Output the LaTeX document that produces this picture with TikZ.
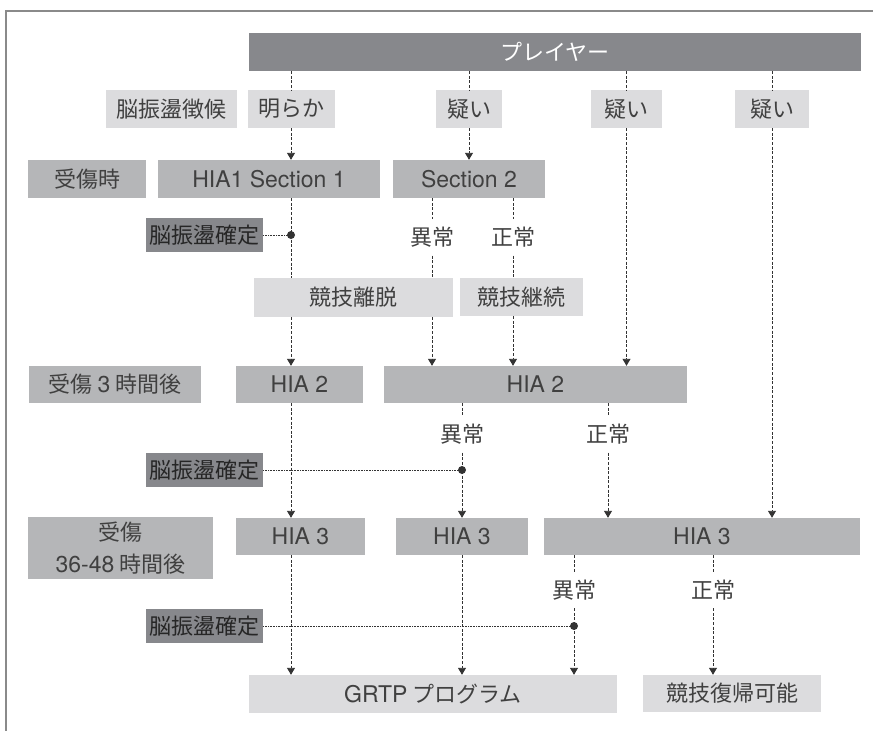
\documentclass[tikz,border=0pt]{standalone}
\usepackage{fontspec}
\setmainfont{Noto Sans CJK JP}
\newfontfamily\latf{TeX Gyre Heros}
\newcommand{\lt}[1]{{\latf\fontsize{23}{30}\selectfont #1}}
\usetikzlibrary{arrows.meta,calc}
\definecolor{cdark}{HTML}{87888C}
\definecolor{cmid}{HTML}{B5B6B8}
\definecolor{clight}{HTML}{DCDCDE}
\definecolor{ctext}{HTML}{404040}
\definecolor{cline}{HTML}{333333}
\definecolor{cframe}{HTML}{8A8A8A}
\tikzset{
  bx/.style={inner sep=0pt, minimum height=38pt, text=ctext, font=\fontsize{22}{30}\selectfont},
  darkbox/.style={bx, fill=cdark},
  midbox/.style={bx, fill=cmid},
  lightbox/.style={bx, fill=clight},
  lbl/.style={inner sep=0pt, minimum height=36pt, minimum width=50pt, text=ctext, font=\fontsize{22}{30}\selectfont},
  dl/.style={draw=cline, line width=0.9pt, dash pattern=on 3pt off 1.6pt},
  dla/.style={dl, -{Triangle[length=7pt,width=8pt]}},
  dotl/.style={draw=cline, line width=0.8pt, dash pattern=on 0.9pt off 0.7pt},
}
\begin{document}
\begin{tikzpicture}[x=1pt,y=-1pt]
\useasboundingbox (0,0) rectangle (873,731);
\draw[cframe, line width=2pt] (6,731) -- (6,11) -- (873,11);

% row 1
\node[darkbox, minimum width=612pt, text=white] (player) at (555,52) {プレイヤー};
% row 2
\node[lightbox, minimum width=131pt] (sign) at (171.5,109) {脳振盪徴候};
\node[lightbox, minimum width=87pt] (mk) at (291,109) {明らか};
\node[lightbox, minimum width=66pt] (q1) at (469,109) {疑い};
\node[lightbox, minimum width=71pt] (q2) at (626.5,109) {疑い};
\node[lightbox, minimum width=74pt] (q3) at (772,109) {疑い};
% row 3
\node[midbox, minimum width=118pt] (t0) at (87,179) {受傷時};
\node[midbox, minimum width=222pt] (s1) at (269,179) {\lt{HIA1 Section 1}};
\node[midbox, minimum width=152pt] (s2) at (469,179) {\lt{Section 2}};
\node[lbl] (ab1) at (432,237.5) {異常};
\node[lbl] (no1) at (513,237.5) {正常};
\node[darkbox, minimum width=117pt, minimum height=34pt, text=black!85] (conf1) at (204.5,235) {脳振盪確定};
% row 4
\node[lightbox, minimum width=199pt, minimum height=39pt] (leave) at (353.5,297.5) {競技離脱};
\node[lightbox, minimum width=123pt] (cont) at (521.5,297) {競技継続};
% row 5
\node[midbox, minimum width=172pt, minimum height=37pt] (t3) at (115,384.5) {受傷 \lt{3} 時間後};
\node[midbox, minimum width=127pt, minimum height=37pt] (h2a) at (299.5,384.5) {\lt{HIA 2}};
\node[midbox, minimum width=303pt, minimum height=37pt] (h2b) at (535.5,384.5) {\lt{HIA 2}};
\node[lbl] (ab2) at (462,434.5) {異常};
\node[lbl] (no2) at (608,434.5) {正常};
\node[darkbox, minimum width=117pt, minimum height=34pt, text=black!85] (conf2) at (204.5,470) {脳振盪確定};
% row 6
\node[midbox, minimum width=185pt, minimum height=62pt, align=center, font=\fontsize{22}{32}\selectfont] (t36) at (120.5,548) {受傷\\\lt{36-48} 時間後};
\node[midbox, minimum width=129pt, minimum height=37pt] (h3a) at (300.5,536.5) {\lt{HIA 3}};
\node[midbox, minimum width=132pt, minimum height=37pt] (h3b) at (462,536.5) {\lt{HIA 3}};
\node[midbox, minimum width=316pt, minimum height=37pt] (h3c) at (702,536.5) {\lt{HIA 3}};
\node[lbl] (ab3) at (574,590) {異常};
\node[lbl] (no3) at (713,590) {正常};
\node[darkbox, minimum width=117pt, minimum height=34pt, text=black!85] (conf3) at (204.5,626) {脳振盪確定};
% row 7
\node[lightbox, minimum width=368pt] (grtp) at (433,694) {\lt{GRTP} プログラム};
\node[lightbox, minimum width=178pt, minimum height=37pt] (ret) at (732,693.5) {競技復帰可能};

% connectors
\draw[dl] (player.south -| mk) -- (mk.north);
\draw[dl] (player.south -| q1) -- (q1.north);
\draw[dl] (player.south -| q2) -- (q2.north);
\draw[dl] (player.south -| q3) -- (q3.north);
\draw[dla] (mk.south) -- (s1.north -| mk);
\draw[dla] (q1.south) -- (s2.north -| q1);
\draw[dl] (s1.south -| mk) -- (leave.north -| mk);
\draw[dl] (s2.south -| ab1) -- (ab1.north);
\draw[dl] (ab1.south) -- (leave.north -| ab1);
\draw[dl] (s2.south -| no1) -- (no1.north);
\draw[dl] (no1.south) -- (cont.north -| no1);
\draw[dla] (leave.south -| mk) -- (h2a.north -| mk);
\draw[dla] (leave.south -| ab1) -- (h2b.north -| ab1);
\draw[dla] (cont.south -| no1) -- (h2b.north -| no1);
\draw[dla] (q2.south) -- (h2b.north -| q2);
\draw[dla] (h2a.south -| mk) -- (h3a.north -| mk);
\draw[dl] (h2b.south -| ab2) -- (ab2.north);
\draw[dla] (ab2.south) -- (h3b.north -| ab2);
\draw[dl] (h2b.south -| no2) -- (no2.north);
\draw[dla] (no2.south) -- (h3c.north -| no2);
\draw[dla] (q3.south) -- (h3c.north -| q3);
\draw[dla] (h3a.south -| mk) -- (grtp.north -| mk);
\draw[dla] (h3b.south -| ab2) -- (grtp.north -| ab2);
\draw[dl] (h3c.south -| ab3) -- (ab3.north);
\draw[dla] (ab3.south) -- (grtp.north -| ab3);
\draw[dl] (h3c.south -| no3) -- (no3.north);
\draw[dla] (no3.south) -- (ret.north -| no3);

% confirmation dots
\coordinate (d1) at (conf1 -| mk);
\coordinate (d2) at (conf2 -| ab2);
\coordinate (d3) at (conf3 -| ab3);
\draw[dotl] (conf1.east) -- (d1);
\draw[dotl] (conf2.east) -- (d2);
\draw[dotl] (conf3.east) -- (d3);
\fill[cline] (d1) circle[radius=4pt];
\fill[cline] (d2) circle[radius=4pt];
\fill[cline] (d3) circle[radius=4pt];
\end{tikzpicture}
\end{document}
